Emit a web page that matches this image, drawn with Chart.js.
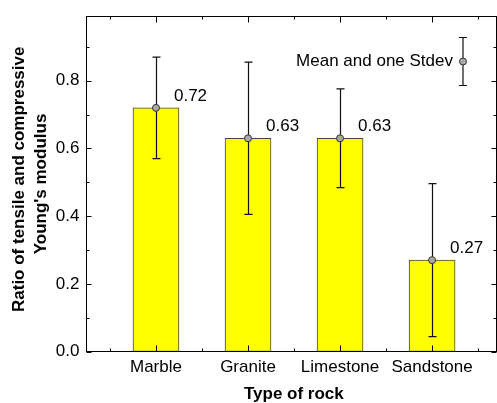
<!DOCTYPE html>
<html>
<head>
<meta charset="utf-8">
<script src="https://cdn.jsdelivr.net/npm/chart.js@4/dist/chart.umd.min.js"></script>
<style>
  html, body { margin: 0; padding: 0; background: #fff; }
  #wrap { width: 497px; height: 403px; }
</style>
</head>
<body>
<div id="wrap"><canvas id="chart" width="497" height="403"></canvas></div>
<script>
// data
const categories = ['Marble', 'Granite', 'Limestone', 'Sandstone'];
const means = [0.72, 0.63, 0.63, 0.27];
const stdevs = [0.15, 0.225, 0.146, 0.226];
const meanLabels = ['0.72', '0.63', '0.63', '0.27'];
const yTicks = [0, 0.2, 0.4, 0.6, 0.8];
const yMinor = [0.1, 0.3, 0.5, 0.7, 0.9];
const xTicks = [1, 2, 3, 4];
const xMinor = [0.5, 1.5, 2.5, 3.5, 4.5];

const FONT = "'Liberation Sans', Arial, sans-serif";
const ctx = document.getElementById('chart');

const points = means.map((m, i) => ({ x: i + 1, y: m }));

function drawCapBar(c, x, yTop, yBot) {
  c.beginPath();
  c.moveTo(x, yTop); c.lineTo(x, yBot);
  c.moveTo(x - 4, yTop); c.lineTo(x + 4, yTop);
  c.moveTo(x - 4, yBot); c.lineTo(x + 4, yBot);
  c.stroke();
}

const decor = {
  id: 'decor',
  afterDatasetDraw(chart, args) {
    if (args.meta.type !== 'bar') return;
    const c = chart.ctx, xs = chart.scales.x, ys = chart.scales.y;
    c.save();
    c.strokeStyle = '#111';
    c.lineWidth = 1.2;
    means.forEach((m, i) => {
      const x = Math.round(xs.getPixelForValue(i + 1)) + 0.5;
      drawCapBar(c, x, ys.getPixelForValue(m + stdevs[i]), ys.getPixelForValue(m - stdevs[i]));
    });
    c.restore();
  },
  afterDraw(chart) {
    const c = chart.ctx, a = chart.chartArea, xs = chart.scales.x, ys = chart.scales.y;
    c.save();
    c.strokeStyle = '#000';
    c.lineWidth = 1;
    c.strokeRect(a.left, a.top, a.right - a.left, a.bottom - a.top);
    c.beginPath();
    const tick = (vals, len, isX) => vals.forEach(v => {
      if (isX) {
        const p = Math.round(xs.getPixelForValue(v)) + 0.5;
        c.moveTo(p, a.bottom); c.lineTo(p, a.bottom - len);
        c.moveTo(p, a.top); c.lineTo(p, a.top + len);
      } else {
        const p = Math.round(ys.getPixelForValue(v)) + 0.5;
        c.moveTo(a.left, p); c.lineTo(a.left + len, p);
        c.moveTo(a.right, p); c.lineTo(a.right - len, p);
      }
    });
    tick(xTicks, 6, true); tick(xMinor, 3, true);
    tick(yTicks, 5, false); tick(yMinor, 3, false);
    c.stroke();

    // value labels next to the means
    c.fillStyle = '#000';
    c.font = '17px ' + FONT;
    c.textAlign = 'left';
    c.textBaseline = 'middle';
    means.forEach((m, i) => {
      c.fillText(meanLabels[i], xs.getPixelForValue(i + 1) + 18, ys.getPixelForValue(m) - 12);
    });

    // legend
    const lx = a.right - 33.5, ly = a.top + 45;
    c.strokeStyle = '#111';
    c.lineWidth = 1.2;
    drawCapBar(c, lx, ly - 24, ly + 24);
    c.beginPath();
    c.arc(lx, ly, 3.5, 0, Math.PI * 2);
    c.fillStyle = '#a8a8a8';
    c.fill();
    c.strokeStyle = '#333';
    c.lineWidth = 1;
    c.stroke();
    c.fillStyle = '#000';
    c.textAlign = 'right';
    c.fillText('Mean and one Stdev', lx - 10, ly);
    c.restore();
  }
};

new Chart(ctx, {
  type: 'bar',
  data: {
    datasets: [
      {
        type: 'line',
        data: points,
        showLine: false,
        order: 1,
        pointRadius: 3.5,
        pointBackgroundColor: '#a8a8a8',
        pointBorderColor: '#333',
        pointBorderWidth: 1
      },
      {
        type: 'bar',
        data: points,
        order: 2,
        barThickness: 46,
        backgroundColor: '#ffff00',
        borderColor: '#444',
        borderWidth: 1,
        borderSkipped: false
      }
    ]
  },
  options: {
    responsive: false,
    animation: false,
    layout: { autoPadding: false, padding: { top: 16.5, right: 0.5, left: 0, bottom: 0 } },
    plugins: { legend: { display: false }, tooltip: { enabled: false } },
    scales: {
      x: {
        type: 'linear',
        min: 0.245,
        max: 4.7,
        offset: false,
        grid: { display: false, offset: false, drawTicks: false },
        border: { display: false },
        afterFit: s => { s.height = 51.5; s.paddingLeft = 0; s.paddingRight = 0; },
        afterBuildTicks: s => { s.ticks = xTicks.map(v => ({ value: v })); },
        ticks: {
          padding: 6,
          color: '#000',
          font: { family: FONT, size: 17 },
          maxRotation: 0,
          callback: v => categories[v - 1]
        },
        title: {
          display: true,
          text: ' Type of rock',
          color: '#000',
          padding: { top: 0, bottom: 0 },
          font: { family: FONT, size: 17, weight: 'bold', lineHeight: 1 }
        }
      },
      y: {
        min: 0,
        max: 0.99,
        grid: { display: false, drawTicks: false },
        border: { display: false },
        afterFit: s => { s.width = 86.5; s.paddingTop = 0; s.paddingBottom = 0; },
        afterBuildTicks: s => { s.ticks = yTicks.map(v => ({ value: v })); },
        ticks: {
          padding: 7,
          color: '#000',
          font: { family: FONT, size: 17 },
          callback: v => Number(v).toFixed(1)
        },
        title: {
          display: true,
          text: ['  Ratio of tensile and compressive', "Young's modulus"],
          color: '#000',
          padding: { top: 9, bottom: 0 },
          font: { family: FONT, size: 17, weight: 'bold', lineHeight: 1.25 }
        }
      }
    }
  },
  plugins: [decor]
});
</script>
</body>
</html>
